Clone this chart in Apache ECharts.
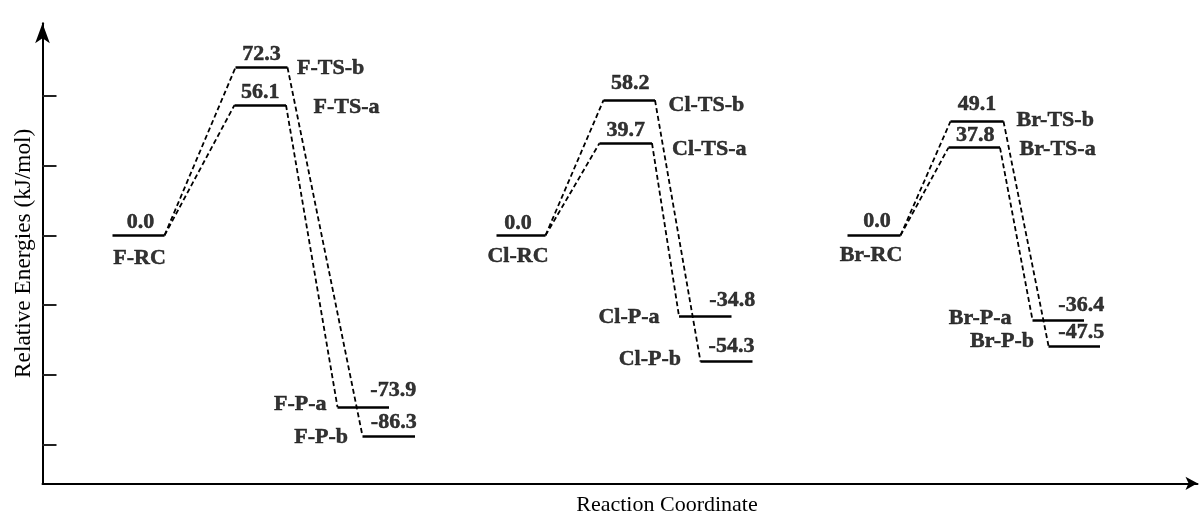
<!DOCTYPE html>
<html><head><meta charset="utf-8">
<script src="https://cdn.jsdelivr.net/npm/echarts@6/dist/echarts.min.js"></script>
<style>html,body{margin:0;padding:0;background:#fff}#c{width:1203px;height:516px}</style>
</head><body><div id="c"></div>
<script>
// ---- data ----
const species = ['F-RC','F-TS-b','F-TS-a','F-P-a','F-P-b',
                 'Cl-RC','Cl-TS-b','Cl-TS-a','Cl-P-a','Cl-P-b',
                 'Br-RC','Br-TS-b','Br-TS-a','Br-P-a','Br-P-b'];
const energies = [0.0, 72.3, 56.1, -73.9, -86.3,
                  0.0, 58.2, 39.7, -34.8, -54.3,
                  0.0, 49.1, 37.8, -36.4, -47.5];
// reaction-coordinate extent of each level
const coordStart = [7.0, 19.3, 19.2, 29.5, 32.0,
                    45.4, 56.1, 55.7, 63.65, 65.8,
                    80.5, 90.8, 90.6, 99.0, 100.6];
const coordEnd   = [12.2, 24.5, 24.35, 34.65, 37.25,
                    50.3, 61.25, 60.95, 68.9, 71.0,
                    85.8, 96.1, 95.75, 104.15, 105.75];
const pathways = [
  ['F-RC','F-TS-a','F-P-a'], ['F-RC','F-TS-b','F-P-b'],
  ['Cl-RC','Cl-TS-a','Cl-P-a'], ['Cl-RC','Cl-TS-b','Cl-P-b'],
  ['Br-RC','Br-TS-a','Br-P-a'], ['Br-RC','Br-TS-b','Br-P-b']
];
const yTicks = [-90, -60, -30, 0, 30, 60];

// ---- label styling (not data) ----
const nameLabelStyle = {
  'F-RC':   {side:'bottom', dist:9,    off:[1,2]},
  'F-TS-b': {side:'right',  dist:9,    off:[0,1]},
  'F-TS-a': {side:'right',  dist:27,   off:[0,2.5]},
  'F-P-a':  {side:'left',   dist:10.5, off:[0,-3]},
  'F-P-b':  {side:'left',   dist:14,   off:[0,1]},
  'Cl-RC':  {side:'bottom', dist:9,    off:[-3,0]},
  'Cl-TS-b':{side:'right',  dist:13,   off:[0,5]},
  'Cl-TS-a':{side:'right',  dist:19.5, off:[0,6]},
  'Cl-P-a': {side:'left',   dist:19,   off:[0,1]},
  'Cl-P-b': {side:'left',   dist:19,   off:[0,-2.5]},
  'Br-RC':  {side:'bottom', dist:9,    off:[-3,-1]},
  'Br-TS-b':{side:'right',  dist:12.5, off:[0,-1]},
  'Br-TS-a':{side:'right',  dist:19,   off:[0,1.5]},
  'Br-P-a': {side:'left',   dist:20.5, off:[0,-1.5]},
  'Br-P-b': {side:'left',   dist:14,   off:[0,-4.5]}
};
const valueLabelStyle = {
  'F-RC':[2,1],'F-TS-b':[0,1],'F-TS-a':[0,2],'F-P-a':[30,-2],'F-P-b':[5,1],
  'Cl-RC':[-3,2],'Cl-TS-b':[1,-2],'Cl-TS-a':[0,2],'Cl-P-a':[27,-1],'Cl-P-b':[5,-1],
  'Br-RC':[3,0],'Br-TS-b':[0,-3],'Br-TS-a':[1,2],'Br-P-a':[23,0],'Br-P-b':[7,1]
};

const idx = n => species.indexOf(n);
const FONT = 'Liberation Serif, Times New Roman, serif';

const levelData = species.map((s, i) => ({
  coords: [[coordStart[i], energies[i]], [coordEnd[i], energies[i]]]
}));
const linkData = [];
pathways.forEach(p => {
  for (let k = 0; k < p.length - 1; k++) {
    const a = idx(p[k]), b = idx(p[k + 1]);
    linkData.push({coords: [[coordEnd[a], energies[a]], [coordStart[b], energies[b]]]});
  }
});
const valueData = species.map((s, i) => ({
  value: [(coordStart[i] + coordEnd[i]) / 2, energies[i]],
  label: {offset: valueLabelStyle[s]}
}));
const nameData = species.map((s, i) => {
  const st = nameLabelStyle[s];
  const x = st.side === 'right' ? coordEnd[i] : st.side === 'left' ? coordStart[i] : (coordStart[i] + coordEnd[i]) / 2;
  return {value: [x, energies[i]], name: s,
          label: {position: st.side, distance: st.dist, offset: st.off}};
});

const boldText = {fontFamily: FONT, fontWeight: 'bold', fontSize: 22, color: '#000',
                  textBorderColor: '#000', textBorderWidth: 0.5};

const chart = echarts.init(document.getElementById('c'), null, {renderer: 'canvas'});
chart.setOption({
  animation: false,
  backgroundColor: '#fff',
  grid: {left: 42.5, right: 5.5, top: 23.3, bottom: 32.7, containLabel: false, outerBoundsMode: 'none'},
  xAxis: {
    type: 'value', min: 0, max: 115.5,
    axisLine: {show: true, onZero: false, symbol: ['none', 'arrow'], symbolSize: [10, 12],
               lineStyle: {color: '#000', width: 2}},
    axisTick: {show: false}, axisLabel: {show: false}, splitLine: {show: false},
    name: 'Reaction Coordinate', nameLocation: 'middle', nameGap: 11,
    nameTextStyle: {fontFamily: FONT, fontSize: 22, color: '#000', padding: [0, 0, 0, 94]}
  },
  yAxis: {
    type: 'value', min: -106.7, max: 91.3,
    axisLine: {show: true, onZero: false, symbol: ['none', 'arrow'], symbolSize: [11, 20],
               lineStyle: {color: '#000', width: 2}},
    axisTick: {show: true, inside: true, length: 14, customValues: yTicks,
               lineStyle: {color: '#222', width: 2}},
    axisLabel: {show: false}, splitLine: {show: false},
    name: 'Relative Energies (kJ/mol)', nameLocation: 'middle', nameGap: 7, nameRotate: 90,
    nameTextStyle: {fontFamily: FONT, fontSize: 23.3, color: '#000'}
  },
  series: [
    {type: 'lines', coordinateSystem: 'cartesian2d', silent: true, z: 3,
     lineStyle: {color: '#000', width: 2.6, opacity: 1}, data: levelData},
    {type: 'lines', coordinateSystem: 'cartesian2d', silent: true, z: 2,
     lineStyle: {color: '#000', width: 1.8, type: [5, 3], opacity: 1}, data: linkData},
    {type: 'scatter', silent: true, symbolSize: 1, itemStyle: {color: 'rgba(0,0,0,0)'}, z: 4,
     label: Object.assign({show: true, position: 'top', distance: 3,
             formatter: p => p.value[1].toFixed(1)}, boldText),
     data: valueData},
    {type: 'scatter', silent: true, symbolSize: 1, itemStyle: {color: 'rgba(0,0,0,0)'}, z: 4,
     label: Object.assign({show: true, formatter: p => p.name}, boldText),
     data: nameData}
  ]
});
</script></body></html>
